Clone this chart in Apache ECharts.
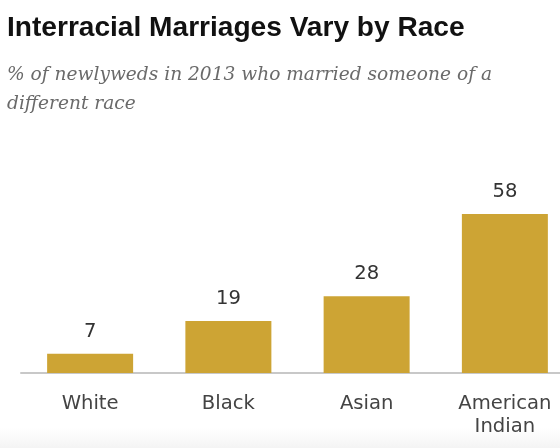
<!DOCTYPE html>
<html><head><meta charset="utf-8">
<script src="https://cdn.jsdelivr.net/npm/echarts@6/dist/echarts.min.js"></script>
<style>html,body{margin:0;padding:0;background:#fff}#c{width:560px;height:448px}</style>
</head><body><div id="c"></div>
<script>
const categories = ['White', 'Black', 'Asian', 'American\nIndian'];
const values = [7, 19, 28, 58];
const titleText = 'Interracial Marriages Vary by Race';
const subtitleText = '% of newlyweds in 2013 who married someone of a\ndifferent race';

const chart = echarts.init(document.getElementById('c'));
chart.setOption({
  animation: false,
  backgroundColor: '#fff',
  graphic: [{
    type: 'rect', left: 0, bottom: 0, z: -10,
    shape: { width: 560, height: 20 },
    style: { fill: new echarts.graphic.LinearGradient(0, 0, 0, 1, [{ offset: 0, color: '#ffffff' }, { offset: 1, color: '#f4f4f4' }]) }
  }],
  title: [
    { text: titleText, left: 2, top: 9,
      textStyle: { fontFamily: '"Liberation Sans", Arial, sans-serif', fontWeight: 'bold', fontSize: 28.1, color: '#111' } },
    { text: subtitleText, left: 2, top: 56,
      textStyle: { fontFamily: '"DejaVu Serif", serif', fontStyle: 'italic', fontWeight: 'normal', fontSize: 18.6, color: '#6a6a6a', lineHeight: 29 } }
  ],
  grid: { left: 21, width: 553, top: 208.6, bottom: 75, containLabel: false, outerBoundsMode: 'none' },
  xAxis: {
    type: 'category', data: categories,
    axisLine: { show: true, lineStyle: { color: '#c8c8c8', width: 2 } },
    axisTick: { show: false },
    axisLabel: { fontFamily: '"DejaVu Sans", Verdana, sans-serif', fontSize: 19.6, color: '#444', margin: 19, lineHeight: 23 }
  },
  yAxis: { type: 'value', min: 0, max: 60, show: false, splitLine: { show: false } },
  series: [{
    type: 'bar', data: values, barWidth: 86,
    itemStyle: { color: '#CDA434' },
    label: { show: true, position: 'top', distance: 12, fontFamily: '"DejaVu Sans", Verdana, sans-serif', fontSize: 19.6, color: '#333' }
  }]
});
</script></body></html>
